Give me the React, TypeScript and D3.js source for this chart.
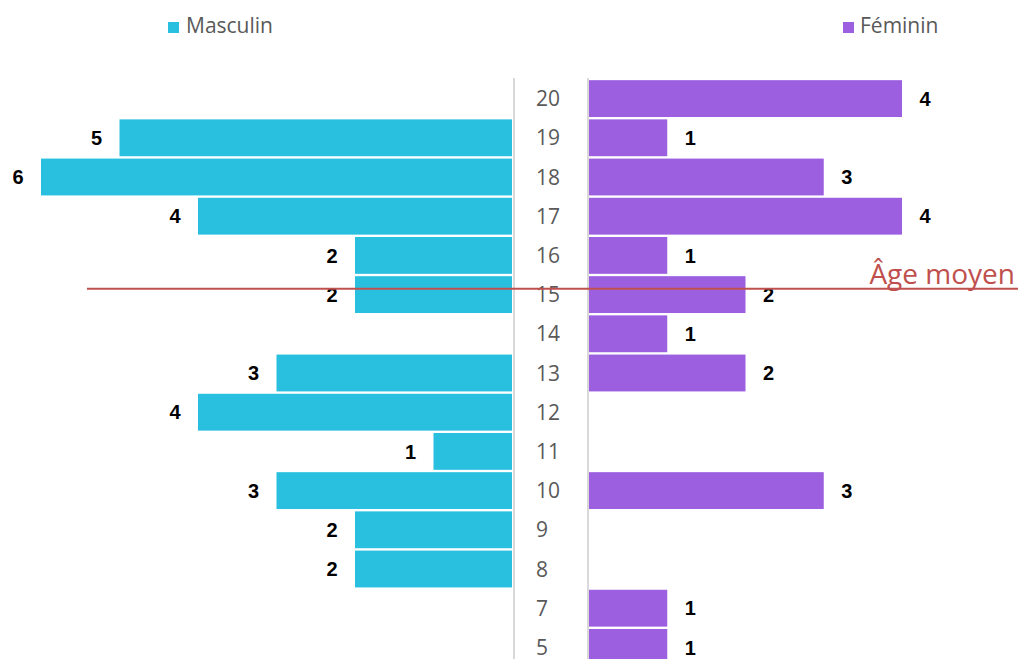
import React from "react";
import * as d3 from "d3";

const ages = ["20", "19", "18", "17", "16", "15", "14", "13", "12", "11", "10", "9", "8", "7", "5"];
const masculin = [0, 5, 6, 4, 2, 2, 0, 3, 4, 1, 3, 2, 2, 0, 0];
const feminin = [4, 1, 3, 4, 1, 2, 1, 2, 0, 0, 3, 0, 0, 1, 1];
const meanAge = 15.15;
const seriesNames = ["Masculin", "Féminin"];
const colors = ["#29c0e0", "#9b5fe0"];

const W = 1018;
const H = 659;

export default function App() {
  const y = d3.scaleBand<string>().domain(ages).range([79, 79 + 15 * 39.2]).paddingInner(0.06).paddingOuter(0.03);
  const xL = d3.scaleLinear().domain([0, 6]).range([512, 41]);
  const xR = d3.scaleLinear().domain([0, 4]).range([589, 902]);
  const centers = ages.map((a) => ({ v: +a, c: (y(a) as number) + y.bandwidth() / 2 }));
  const yMean = d3.scaleLinear().domain(centers.map((d) => d.v)).range(centers.map((d) => d.c))(meanAge);
  const bh = y.bandwidth();
  return (
    <svg width={W} height={H} style={{ position: "absolute", left: 0, top: 0, background: "#fff" }}>
      <rect x={168} y={22} width={11} height={11} fill={colors[0]} />
      <text x={186} y={33} fontFamily="Open Sans" fontSize={21} fill="#595959">{seriesNames[0]}</text>
      <rect x={843} y={22} width={11} height={11} fill={colors[1]} />
      <text x={860} y={33} fontFamily="Open Sans" fontSize={21} fill="#595959">{seriesNames[1]}</text>

      <line x1={514} x2={514} y1={78} y2={H} stroke="#d9d9d9" strokeWidth={2} />
      <line x1={588} x2={588} y1={78} y2={H} stroke="#d9d9d9" strokeWidth={2} />

      {ages.map((a, i) => {
        const yy = y(a) as number;
        const cy = yy + bh / 2;
        return (
          <g key={a}>
            {masculin[i] > 0 && (
              <>
                <rect x={xL(masculin[i])} y={yy} width={xL(0) - xL(masculin[i])} height={bh} fill={colors[0]} />
                <text x={xL(masculin[i]) - 23} y={cy} dy="0.36em" textAnchor="middle" fontFamily="Liberation Sans" fontWeight="bold" fontSize={20} fill="#000">{masculin[i]}</text>
              </>
            )}
            {feminin[i] > 0 && (
              <>
                <rect x={xR(0)} y={yy} width={xR(feminin[i]) - xR(0)} height={bh} fill={colors[1]} />
                <text x={xR(feminin[i]) + 23} y={cy} dy="0.36em" textAnchor="middle" fontFamily="Liberation Sans" fontWeight="bold" fontSize={20} fill="#000">{feminin[i]}</text>
              </>
            )}
            <text x={536} y={cy} dy="0.36em" fontFamily="Open Sans" fontSize={21} fill="#595959">{a}</text>
          </g>
        );
      })}

      <line x1={87} x2={W} y1={yMean} y2={yMean} stroke="#c0504d" strokeWidth={2} />
      <text x={1015} y={yMean - 5} textAnchor="end" fontFamily="Open Sans" fontSize={28} fill="#c0504d">Âge moyen</text>
    </svg>
  );
}
